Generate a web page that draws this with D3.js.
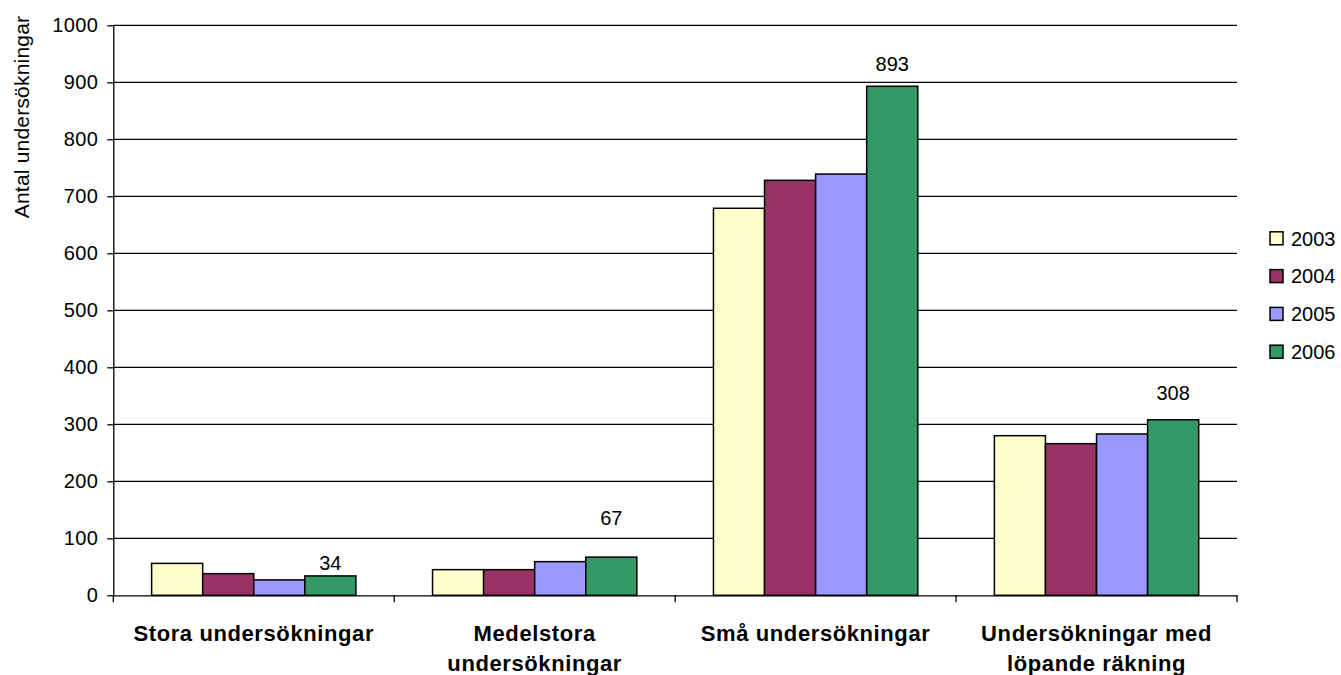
<!DOCTYPE html>
<html>
<head>
<meta charset="utf-8">
<script src="https://cdn.jsdelivr.net/npm/d3@7"></script>
<style>
  html, body { margin: 0; padding: 0; background: #fff; }
  svg { display: block; font-family: "Liberation Sans", Arial, sans-serif; }
</style>
</head>
<body>
<svg id="chart" width="1341" height="675"></svg>
<script>
// ---- data ----
const categories = [
  ["Stora undersökningar"],
  ["Medelstora", "undersökningar"],
  ["Små undersökningar"],
  ["Undersökningar med", "löpande räkning"]
];
const categoryKeys = ["Stora", "Medelstora", "Små", "Löpande"];
const years = ["2003", "2004", "2005", "2006"];
const values2003 = [56, 45, 679, 280];
const values2004 = [38, 45, 728, 266];
const values2005 = [27, 59, 739, 283];
const values2006 = [34, 67, 893, 308];
const yTicks = [0, 100, 200, 300, 400, 500, 600, 700, 800, 900, 1000];
const yTitle = "Antal undersökningar";

// ---- styles ----
const colors = ["#FFFFCC", "#993366", "#9999FF", "#339966"];
const labelOffsets = [13, 39, 22, 27]; // px above bar top for the 2006 value labels

const series = [values2003, values2004, values2005, values2006];
const svg = d3.select("#chart");

const mLeft = 113.3, mRight = 1237, mTop = 25.3, mBottom = 595.3;

const x0 = d3.scaleBand().domain(categoryKeys).range([mLeft, mRight]).paddingInner(0).paddingOuter(0);
const y = d3.scaleLinear().domain([0, 1000]).range([mBottom, mTop]);

const catW = x0.bandwidth();
const barW = catW / (years.length + 1.5);
const groupW = barW * years.length;
const x1 = d3.scaleBand().domain(years).range([0, groupW]).padding(0);

// gridlines
svg.append("g").selectAll("line")
  .data(yTicks.filter(d => d > 0))
  .join("line")
  .attr("x1", mLeft).attr("x2", mRight)
  .attr("y1", d => y(d)).attr("y2", d => y(d))
  .attr("stroke", "#000").attr("stroke-width", 1.3);

// y axis
const yAxis = svg.append("g")
  .attr("transform", `translate(${mLeft},0)`)
  .call(d3.axisLeft(y).tickValues(yTicks).tickFormat(d3.format("d")).tickSize(6).tickSizeOuter(0).tickPadding(9));
yAxis.select(".domain").attr("stroke", "#000").attr("stroke-width", 1.3);
yAxis.selectAll(".tick line").attr("stroke", "#000").attr("stroke-width", 1.3);
yAxis.selectAll(".tick text").attr("font-size", 20).attr("fill", "#000")
  .attr("letter-spacing", "0.4px")
  .attr("font-family", "Liberation Sans, Arial, sans-serif");

// bars
const groups = svg.append("g").selectAll("g")
  .data(categoryKeys)
  .join("g")
  .attr("transform", d => `translate(${x0(d) + (catW - groupW) / 2},0)`);

groups.selectAll("rect")
  .data((d, i) => years.map((yr, j) => ({ yr, j, v: series[j][i] })))
  .join("rect")
  .attr("x", d => x1(d.yr))
  .attr("width", x1.bandwidth())
  .attr("y", d => y(d.v))
  .attr("height", d => y(0) - y(d.v))
  .attr("fill", d => colors[d.j])
  .attr("stroke", "#000")
  .attr("stroke-width", 1.5);

// value labels for 2006
groups.append("text")
  .attr("x", x1("2006") + x1.bandwidth() / 2)
  .attr("y", (d, i) => y(values2006[i]) - labelOffsets[i])
  .attr("dy", "0.35em")
  .attr("text-anchor", "middle")
  .attr("font-size", 20)
  .attr("fill", "#000")
  .text((d, i) => values2006[i]);

// x axis line and ticks
const xAxis = svg.append("g")
  .attr("transform", `translate(0,${mBottom})`)
  .call(d3.axisBottom(x0).tickSize(0).tickFormat(""));
xAxis.select(".domain").attr("stroke", "#000").attr("stroke-width", 1.3);
xAxis.selectAll(".tick").remove();
const boundaries = categoryKeys.map(k => x0(k)).concat([mRight]);
xAxis.selectAll("line.sep")
  .data(boundaries)
  .join("line")
  .attr("class", "sep")
  .attr("x1", d => d).attr("x2", d => d)
  .attr("y1", 0).attr("y2", 7)
  .attr("stroke", "#000").attr("stroke-width", 1.3);

// category labels
const catLabels = svg.append("g").selectAll("text")
  .data(categories)
  .join("text")
  .attr("x", (d, i) => x0(categoryKeys[i]) + catW / 2)
  .attr("y", 641)
  .attr("text-anchor", "middle")
  .attr("font-size", 22)
  .attr("font-weight", "bold")
  .attr("letter-spacing", "0.6px")
  .attr("fill", "#000");
catLabels.selectAll("tspan")
  .data(d => d)
  .join("tspan")
  .attr("x", function () { return d3.select(this.parentNode).attr("x"); })
  .attr("dy", (d, i) => i === 0 ? 0 : 30)
  .text(d => d);

// y title
svg.append("text")
  .attr("transform", "translate(29,117) rotate(-90)")
  .attr("text-anchor", "middle")
  .attr("font-size", 21)
  .attr("letter-spacing", "0.2px")
  .attr("fill", "#000")
  .text(yTitle);

// legend
const legend = svg.append("g").selectAll("g")
  .data(years)
  .join("g")
  .attr("transform", (d, i) => `translate(1270,${238.3 + i * 37.8})`);
legend.append("rect")
  .attr("x", 0).attr("y", -6.5)
  .attr("width", 13).attr("height", 13)
  .attr("fill", (d, i) => colors[i])
  .attr("stroke", "#000").attr("stroke-width", 1.5);
legend.append("text")
  .attr("x", 21).attr("y", 0).attr("dy", "0.36em")
  .attr("font-size", 20)
  .attr("fill", "#000")
  .text(d => d);
</script>
</body>
</html>
